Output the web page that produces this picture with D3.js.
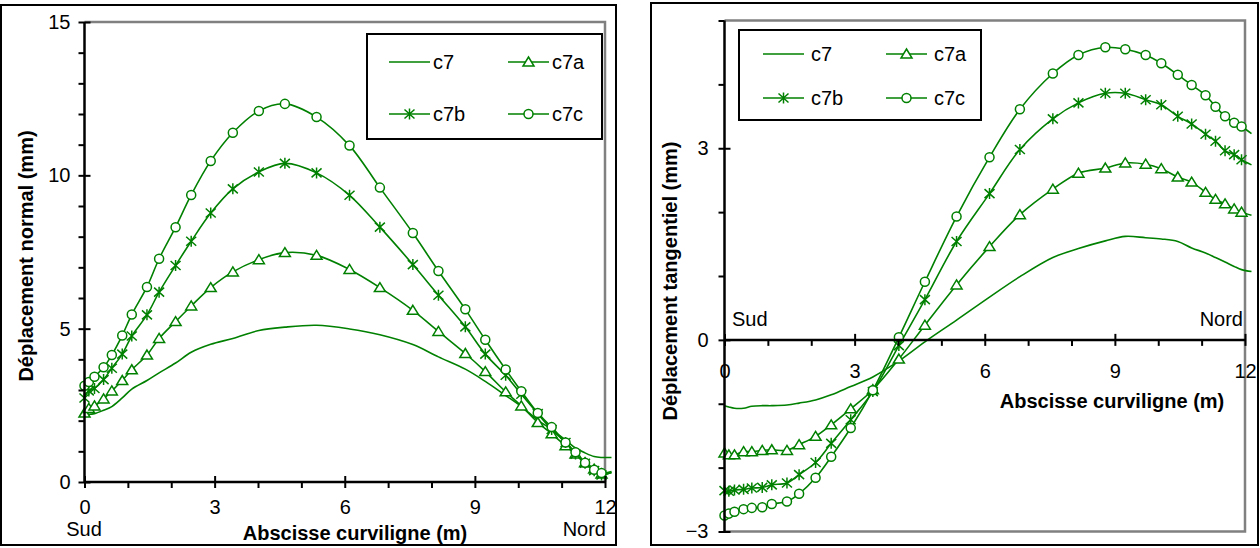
<!DOCTYPE html>
<html><head><meta charset="utf-8">
<script src="https://cdn.jsdelivr.net/npm/d3@7"></script>
<style>
body{margin:0;background:#fff;}
svg{display:block;font-family:"Liberation Sans",Arial,sans-serif;}
</style></head>
<body><svg id="c" width="1260" height="548"></svg>
<script>
// ---- data ----
const xs = [0, 0.1, 0.23, 0.44, 0.63, 0.87, 1.09, 1.44, 1.72, 2.1, 2.46, 2.91, 3.42, 4.02, 4.62, 5.35, 6.11, 6.81, 7.57, 8.16, 8.78, 9.24, 9.71, 10.07, 10.45, 10.77, 11.09, 11.32, 11.54, 11.75, 11.92, 12.15];
const seriesNames = ["c7", "c7a", "c7b", "c7c"];
const c7N  = [2.23,2.21,2.23,2.34,2.46,2.74,3.03,3.31,3.56,3.88,4.23,4.49,4.68,4.94,5.05,5.11,4.99,4.80,4.48,4.08,3.68,3.28,2.82,2.46,2.02,1.71,1.37,1.11,0.95,0.83,0.80,0.80];
const c7aN = [2.25,2.40,2.48,2.71,2.97,3.31,3.66,4.14,4.68,5.23,5.74,6.34,6.85,7.25,7.48,7.39,6.93,6.34,5.60,4.91,4.19,3.60,2.94,2.48,1.94,1.57,1.18,0.91,0.63,0.42,0.26,0.30];
const c7bN = [2.74,2.97,3.05,3.34,3.71,4.17,4.76,5.45,6.19,7.06,7.85,8.77,9.56,10.11,10.39,10.08,9.35,8.31,7.09,6.09,5.06,4.17,3.48,2.86,2.23,1.71,1.29,0.91,0.61,0.37,0.23,0.32];
const c7cN = [3.14,3.26,3.43,3.74,4.14,4.78,5.46,6.36,7.28,8.31,9.36,10.47,11.39,12.10,12.33,11.90,10.97,9.60,8.12,6.88,5.63,4.64,3.67,2.96,2.25,1.79,1.29,0.97,0.63,0.40,0.29,0.34];
const c7T  = [-1.03,-1.05,-1.07,-1.07,-1.04,-1.03,-1.03,-1.02,-0.99,-0.94,-0.86,-0.73,-0.58,-0.33,-0.03,0.31,0.67,0.99,1.29,1.43,1.55,1.62,1.60,1.58,1.54,1.44,1.36,1.29,1.22,1.15,1.10,1.07];
const c7aT = [-1.77,-1.80,-1.80,-1.75,-1.75,-1.73,-1.72,-1.73,-1.64,-1.51,-1.33,-1.08,-0.78,-0.30,0.23,0.86,1.46,1.96,2.36,2.61,2.69,2.77,2.75,2.68,2.55,2.47,2.31,2.20,2.13,2.05,2.00,1.95];
const c7bT = [-2.36,-2.37,-2.35,-2.34,-2.32,-2.31,-2.27,-2.24,-2.11,-1.92,-1.62,-1.25,-0.81,-0.09,0.63,1.54,2.29,2.98,3.46,3.71,3.86,3.86,3.76,3.68,3.50,3.38,3.22,3.11,2.96,2.90,2.82,2.74];
const c7cT = [-2.75,-2.72,-2.69,-2.65,-2.63,-2.62,-2.57,-2.53,-2.41,-2.16,-1.83,-1.38,-0.79,0.04,0.91,1.93,2.86,3.61,4.17,4.46,4.58,4.55,4.46,4.33,4.15,3.99,3.83,3.65,3.50,3.40,3.34,3.23];
const xTicks = [0, 3, 6, 9, 12];
const yTicksN = [0, 5, 10, 15];
const yTicksT = [-3, 0, 3];

const GREEN = "#008000";
const svg = d3.select("#c");
const FONT = 20;

// panel frames
svg.append("rect").attr("x",1).attr("y",5).attr("width",615).attr("height",540).attr("fill","none").attr("stroke","#000").attr("stroke-width",2);
svg.append("rect").attr("x",651).attr("y",3).attr("width",607).attr("height",542).attr("fill","none").attr("stroke","#000").attr("stroke-width",2);

function markerPath(type){
  if(type==="tri") return "M0,-5L5.5,4L-5.5,4Z";
  if(type==="circ") return d3.symbol().type(d3.symbolCircle).size(64)();
  if(type==="star") return "M0,-5.5V5.5M-5,-4.5L5,4.5M-5,4.5L5,-4.5";
  return null;
}
const markerTypes = [null, "tri", "star", "circ"];

function drawMarker(g, type, x, y){
  if(!type) return;
  g.append("path").attr("d", markerPath(type)).attr("transform",`translate(${x},${y})`)
   .attr("fill", type==="star" ? "none" : "#fff").attr("stroke", GREEN).attr("stroke-width",1.5);
}

function chart(opt){
  const x = d3.scaleLinear().domain([0,12]).range([opt.x0, opt.x1]);
  const y = d3.scaleLinear().domain(opt.ydom).range([opt.yb, opt.yt]);
  const g = svg.append("g");
  // grey plot border
  const gb = g.append("path").attr("fill","none").attr("stroke","#808080").attr("stroke-width",2.5);
  if(opt.greyBottom)
    gb.attr("d",`M${x(0)},${y(opt.ydom[1])}H${x(12)}V${y(opt.ydom[0])}H${x(0)}`);
  else
    gb.attr("d",`M${x(0)},${y(opt.ydom[1])}H${x(12)}V${y(opt.ydom[0])}`);

  // series
  const data = opt.series;
  data.forEach((vals, i) => {
    const pts = xs.map((xv,k)=>[x(xv), y(vals[k])]);
    g.append("path").attr("d", d3.line().curve(d3.curveCatmullRom.alpha(0.5))(pts))
      .attr("fill","none").attr("stroke",GREEN).attr("stroke-width",1.6);
  });
  data.forEach((vals, i) => {
    const t = markerTypes[i];
    if(!t) return;
    xs.forEach((xv,k)=>{ if(xv<=12.0) drawMarker(g, t, x(xv), y(vals[k])); });
  });

  // x axis (at y = 0)
  const ax = g.append("g").attr("transform",`translate(0,${y(0)})`);
  const minorX = d3.range(0,13).filter(v=>v%3!==0);
  ax.append("g").call(d3.axisBottom(x).tickValues(minorX).tickSize(6).tickFormat(""))
    .call(s=>s.select(".domain").remove());
  const majX = ax.append("g").call(d3.axisBottom(x).tickValues(xTicks).tickSize(6).tickPadding(opt.xLabOff-6).tickFormat(d3.format("d")));
  majX.selectAll(".tick line").attr("y1",-6);
  majX.select(".domain").attr("d",`M${x(0)},0H${x(12)}`);
  ax.selectAll("line").attr("stroke","#000").attr("stroke-width",2);
  ax.selectAll(".domain").attr("stroke","#000").attr("stroke-width",2.5);
  ax.selectAll("text").attr("font-size",FONT).attr("font-family","Liberation Sans, Arial, sans-serif").attr("fill","#000");

  // y axis
  const ay = g.append("g").attr("transform",`translate(${x(0)},0)`);
  const minorY = d3.range(opt.ydom[0], opt.ydom[1]+1).filter(v=>!opt.yTicks.includes(v));
  ay.append("g").call(d3.axisLeft(y).tickValues(minorY).tickSize(6).tickFormat(""))
    .call(s=>s.select(".domain").remove());
  const majY = ay.append("g").call(d3.axisLeft(y).tickValues(opt.yTicks).tickSize(6).tickPadding(opt.yLabOff-6).tickFormat(d3.format("d")));
  majY.selectAll(".tick line").attr("x1",6);
  majY.select(".domain").attr("d",`M0,${y(opt.ydom[0])}V${y(opt.ydom[1])}`);
  ay.selectAll("line").attr("stroke","#000").attr("stroke-width",2);
  ay.selectAll(".domain").attr("stroke","#000").attr("stroke-width",2.5);
  ay.selectAll("text").attr("font-size",FONT).attr("font-family","Liberation Sans, Arial, sans-serif").attr("fill","#000");

  // titles
  svg.append("text").attr("x",opt.xTitle[0]).attr("y",opt.xTitle[1]).attr("text-anchor","middle")
    .attr("font-size",FONT).attr("font-weight","bold").text("Abscisse curviligne (m)");
  svg.append("text").attr("transform",`translate(${opt.yTitle[0]},${opt.yTitle[1]}) rotate(-90)`).attr("text-anchor","middle")
    .attr("font-size",FONT).attr("font-weight","bold").text(opt.yTitleText);
  svg.append("text").attr("x",opt.sud[0]).attr("y",opt.sud[1]).attr("text-anchor",opt.sud[2]).attr("font-size",FONT).text("Sud");
  svg.append("text").attr("x",opt.nord[0]).attr("y",opt.nord[1]).attr("text-anchor","end").attr("font-size",FONT).text("Nord");

  // legend
  const L = opt.legend;
  svg.append("rect").attr("x",L.x).attr("y",L.y).attr("width",L.w).attr("height",L.h)
    .attr("fill","#fff").attr("stroke","#000").attr("stroke-width",2);
  seriesNames.forEach((name,i)=>{
    const col = i%2, row = Math.floor(i/2);
    const lx = L.cols[col], ly = L.rows[row];
    svg.append("line").attr("x1",lx).attr("x2",lx+L.len).attr("y1",ly).attr("y2",ly).attr("stroke",GREEN).attr("stroke-width",1.6);
    const lg = svg.append("g");
    drawMarker(lg, markerTypes[i], lx+L.len/2, ly);
    svg.append("text").attr("x",lx+L.len+L.gap).attr("y",ly+7).attr("font-size",FONT).text(name);
  });
}

chart({
  x0:84.5, x1:605, ydom:[0,15], yb:482, yt:22, yTicks:yTicksN,
  series:[c7N,c7aN,c7bN,c7cN], xLabOff:18, yLabOff:14, greyBottom:false,
  xTitle:[355,540], yTitle:[33,256], yTitleText:"Déplacement normal (mm)",
  sud:[84,536,"middle"], nord:[606,536],
  legend:{x:367,y:34,w:235,h:105,cols:[389,508],rows:[62,114],len:41,gap:3}
});
chart({
  x0:724.5, x1:1245, ydom:[-3,5], yb:531.5, yt:20.5, yTicks:yTicksT,
  series:[c7T,c7aT,c7bT,c7cT], xLabOff:24, yLabOff:16, greyBottom:true,
  xTitle:[1112,408], yTitle:[677,281], yTitleText:"Déplacement tangentiel (mm)",
  sud:[732,326,"start"], nord:[1243,326],
  legend:{x:739,y:30,w:242,h:90,cols:[763,886],rows:[54,98],len:41,gap:7}
});
</script></body></html>
